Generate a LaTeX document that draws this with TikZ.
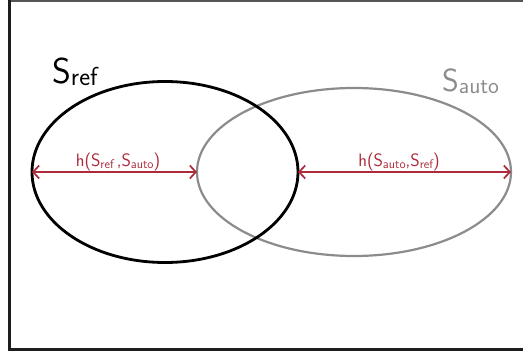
\documentclass[tikz,border=0pt]{standalone}
\usetikzlibrary{shapes.geometric,arrows.meta}
\definecolor{hred}{RGB}{172,42,58}
\definecolor{autogray}{RGB}{140,140,140}
\definecolor{framec}{RGB}{30,30,30}
\tikzset{
  setshape/.style={ellipse, draw, inner sep=0pt, outer sep=0pt},
  hdist/.style={hred, line width=1.7pt, {Straight Barb[length=6pt,width=13pt]}-{Straight Barb[length=6pt,width=13pt]}},
  hlabel/.style={text=hred, anchor=base, inner sep=0pt, font=\sffamily\fontsize{18}{18}\selectfont},
  biglabel/.style={anchor=base west, inner sep=0pt}
}
\newcommand{\smsub}[1]{\raisebox{-2pt}{\fontsize{12.5}{12.5}\selectfont #1}}
\begin{document}
\begin{tikzpicture}[x=1pt,y=-1pt]
\useasboundingbox (0,0) rectangle (523,356);
\fill[white] (0,0) rectangle (523,356);
% frame
\draw[framec!75, line width=1.5pt] (9,1) -- (523,1);
\draw[framec, line width=3pt] (9,0) -- (9,349) -- (523,349);
% sets
\node[setshape, autogray, line width=2.2pt, minimum width=314pt, minimum height=168pt] (sauto) at (354,172) {};
\node[setshape, black, line width=2.8pt, minimum width=266pt, minimum height=181pt] (sref) at (165,172) {};
% distances
\draw[hdist] (sref.west) -- (sauto.west);
\draw[hdist] (sref.east) -- (sauto.east);
\node[hlabel] (lh1) at (118,166) {h(S\smsub{ref}\,,S\smsub{auto})};
\node[hlabel] (lh2) at (399,166) {h(S\smsub{auto},S\smsub{ref})};
% set labels
\node[biglabel, font=\sffamily\fontsize{36}{36}\selectfont] (lref) at (52,83) {S\raisebox{-2.5pt}{\fontsize{26}{26}\selectfont ref}};
\node[biglabel, text=autogray, font=\sffamily\fontsize{32}{32}\selectfont] (lauto) at (442,91) {S\raisebox{-2pt}{\fontsize{23}{23}\selectfont auto}};
\end{tikzpicture}
\end{document}
